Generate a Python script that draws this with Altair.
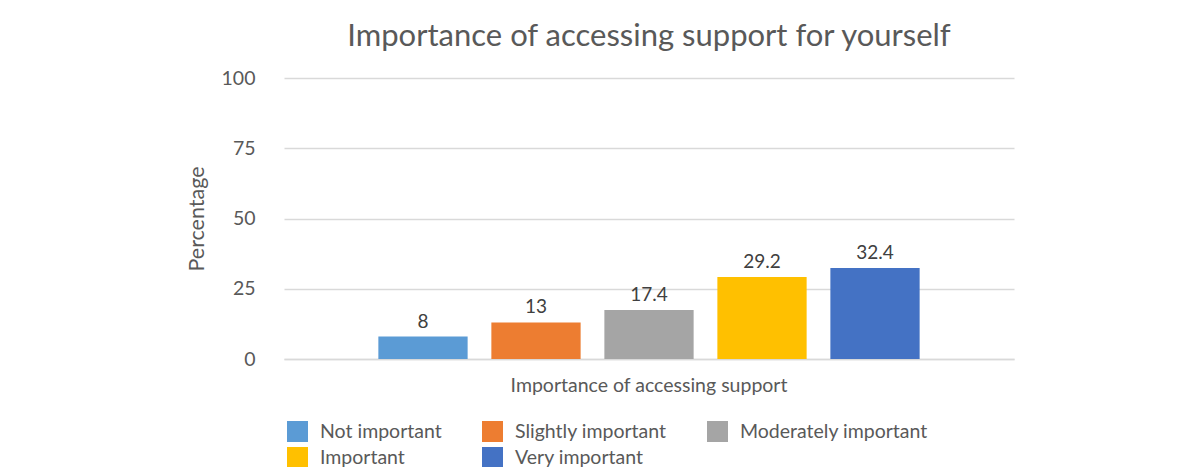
import altair as alt
import pandas as pd

categories = ["Not important", "Slightly important", "Moderately important", "Important", "Very important"]
values = [8, 13, 17.4, 29.2, 32.4]
group_label = "Importance of accessing support"
colors = ["#5b9bd5", "#ed7d31", "#a5a5a5", "#ffc000", "#4472c4"]
y_ticks = [0, 25, 50, 75, 100]

df = pd.DataFrame({
    "group": [group_label] * len(categories),
    "category": categories,
    "value": values,
})

FONT = "Lato"
TXT = "#595959"
FS = 19.5

base = alt.Chart(df).encode(
    x=alt.X(
        "group:N",
        title=None,
        scale=alt.Scale(paddingInner=0, paddingOuter=0),
        axis=alt.Axis(
            labelAngle=0, labelFontSize=FS, labelFont=FONT, labelColor=TXT,
            labelPadding=17, labelLimit=0, ticks=False,
            domainColor="#d9d9d9", domainWidth=1.5,
        ),
    ),
    xOffset=alt.XOffset(
        "category:N", sort=categories,
        scale=alt.Scale(paddingInner=0.21, paddingOuter=0.835),
    ),
    y=alt.Y(
        "value:Q",
        title="Percentage",
        scale=alt.Scale(domain=[0, 100], nice=False),
        axis=alt.Axis(
            values=y_ticks, ticks=False, domain=False, grid=True,
            gridColor="#d9d9d9", gridWidth=1.5,
            labelFontSize=FS, labelFont=FONT, labelColor=TXT, labelPadding=29,
            titleFontSize=21.5, titleFont=FONT, titleColor=TXT, titleFontWeight="normal",
            titlePadding=13,
        ),
    ),
)

bars = base.mark_bar().encode(
    color=alt.Color(
        "category:N",
        sort=categories,
        scale=alt.Scale(domain=categories, range=colors),
        legend=alt.Legend(
            title=None, orient="none", legendX=3, legendY=343, columns=3,
            direction="horizontal",
            symbolType="square", symbolSize=441, symbolStrokeWidth=0,
            labelFontSize=FS, labelFont=FONT, labelColor=TXT, labelOffset=12,
            labelLimit=0,
            columnPadding=40, rowPadding=5, padding=0,
        ),
    )
)

labels = base.mark_text(
    baseline="alphabetic", dy=-9, fontSize=19, font=FONT, color="#404040"
).encode(text=alt.Text("value:Q"))

chart = (
    alt.layer(bars, labels)
    .properties(
        width=730,
        height=281,
        title=alt.Title(
            "Importance of accessing support for yourself",
            fontSize=31, font=FONT, color=TXT, fontWeight="normal",
            anchor="middle", offset=15,
        ),
        autosize=alt.AutoSizeParams(type="none"),
        padding={"left": 276, "top": 70, "right": 176, "bottom": 108},
        background="white",
    )
    .configure_view(stroke=None)
)

chart.save("out.html", embed_options={"renderer": "svg", "actions": False})
